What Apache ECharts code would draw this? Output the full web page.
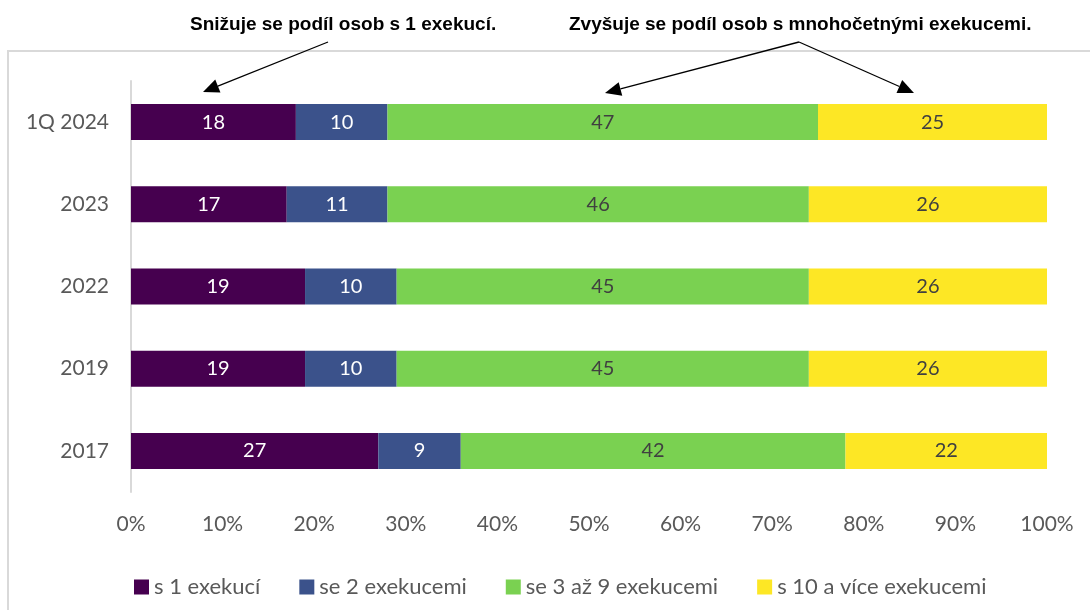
<!DOCTYPE html>
<html>
<head>
<meta charset="utf-8">
<script src="https://cdn.jsdelivr.net/npm/echarts@6/dist/echarts.min.js"></script>
<style>
html, body { margin: 0; padding: 0; background: #fff; }
#main { width: 1090px; height: 610px; }
</style>
</head>
<body>
<div id="main"></div>
<script>
// kategorie (odspodu nahoru)
var categories = ['2017', '2019', '2022', '2023', '1Q 2024'];
var seriesNames = ['s 1 exekucí', 'se 2 exekucemi', 'se 3 až 9 exekucemi', 's 10 a více exekucemi'];
var s1 = [27, 19, 19, 17, 18];
var s2 = [9, 10, 10, 11, 10];
var s3to9 = [42, 45, 45, 46, 47];
var s10plus = [22, 26, 26, 26, 25];
var colors = ['#46004f', '#3b528b', '#7ad151', '#fde725'];
var labelColors = ['#ffffff', '#ffffff', '#404040', '#404040'];

var font = 'Lato, "Noto Sans", sans-serif';
var myChart = echarts.init(document.getElementById('main'));

function makeSeries(name, data, i) {
	return {
		name: name,
		type: 'bar',
		stack: 'total',
		barWidth: 36,
		data: data,
		itemStyle: { color: colors[i] },
		label: {
			show: true,
			position: 'inside',
			color: labelColors[i],
			fontFamily: font,
			fontSize: 20
		},
		emphasis: { disabled: true }
	};
}

// šipky k popiskům
function arrow(x1, y1, x2, y2) {
	var ang = Math.atan2(y2 - y1, x2 - x1);
	var len = 16, w = 7;
	var bx = x2 - len * Math.cos(ang), by = y2 - len * Math.sin(ang);
	var px = -Math.sin(ang) * w, py = Math.cos(ang) * w;
	return [{
		type: 'line',
		shape: { x1: x1, y1: y1, x2: bx, y2: by },
		style: { stroke: '#000', lineWidth: 1.3 }
	}, {
		type: 'polygon',
		shape: { points: [[x2, y2], [bx + px, by + py], [bx - px, by - py]] },
		style: { fill: '#000' }
	}];
}

var graphics = [{
	type: 'rect',
	shape: { x: 8, y: 51, width: 1100, height: 580 },
	style: { fill: 'none', stroke: '#d9d9d9', lineWidth: 2 },
	z: -1
}, {
	type: 'text',
	left: 190, top: 15,
	style: { text: 'Snižuje se podíl osob s 1 exekucí.', font: 'bold 19px "Liberation Sans", Arial, sans-serif', fill: '#000' }
}, {
	type: 'text',
	left: 569, top: 15,
	style: { text: 'Zvyšuje se podíl osob s mnohočetnými exekucemi.', font: 'bold 19px "Liberation Sans", Arial, sans-serif', fill: '#000' }
}];
graphics = graphics.concat(arrow(328, 42, 203, 92), arrow(799, 42, 605, 93), arrow(799, 42, 914, 93));

var option = {
	animation: false,
	color: colors,
	grid: { left: 131, right: 43, top: 81, bottom: 118, containLabel: false },
	xAxis: {
		type: 'value',
		min: 0,
		max: 100,
		interval: 10,
		axisLine: { show: false },
		axisTick: { show: false },
		splitLine: { show: false },
		axisLabel: {
			formatter: '{value}%',
			color: '#595959',
			fontFamily: font,
			fontSize: 21,
			margin: 22
		}
	},
	yAxis: {
		type: 'category',
		data: categories,
		axisLine: { show: true, lineStyle: { color: '#d9d9d9', width: 2 } },
		axisTick: { show: false },
		axisLabel: {
			color: '#595959',
			fontFamily: font,
			fontSize: 21,
			margin: 22
		}
	},
	legend: {
		data: seriesNames,
		bottom: 7,
		left: 129,
		itemWidth: 15,
		itemHeight: 15,
		itemGap: 39,
		icon: 'rect',
		textStyle: { color: '#595959', fontFamily: font, fontSize: 22 }
	},
	series: [
		makeSeries(seriesNames[0], s1, 0),
		makeSeries(seriesNames[1], s2, 1),
		makeSeries(seriesNames[2], s3to9, 2),
		makeSeries(seriesNames[3], s10plus, 3)
	],
	graphic: graphics
};
myChart.setOption(option);
</script>
</body>
</html>
